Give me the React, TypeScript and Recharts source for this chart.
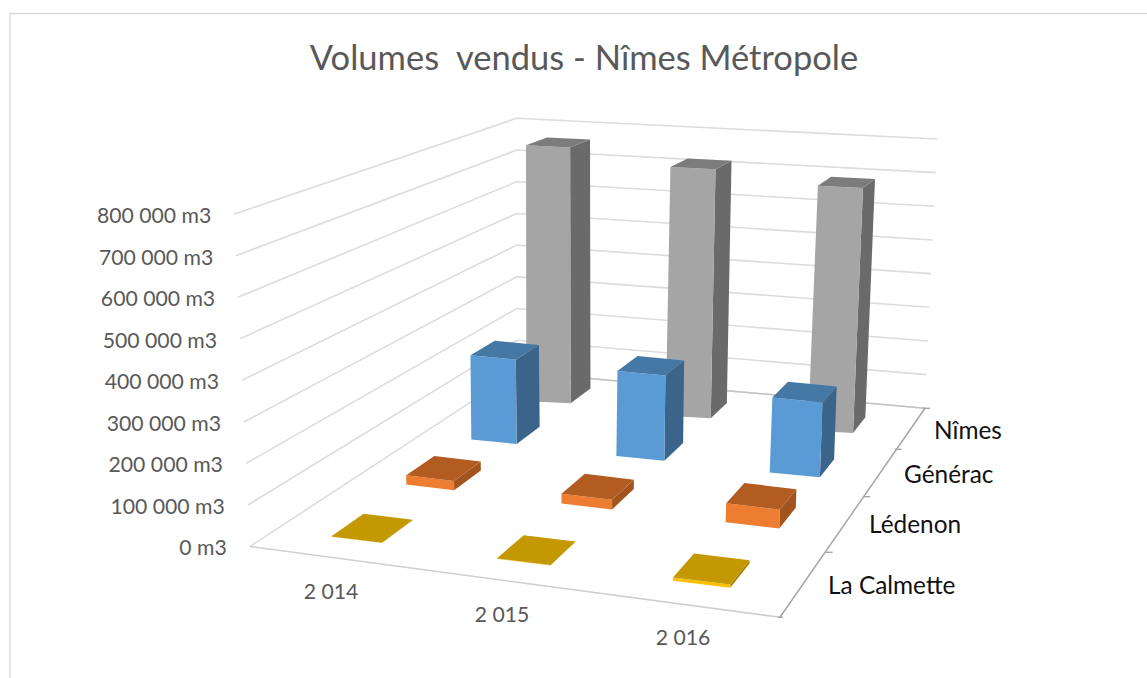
import React from 'react';
import { BarChart, Bar, XAxis, YAxis, Customized } from 'recharts';

const years = ['2 014', '2 015', '2 016'];
const nimes = [766000, 745000, 733000];
const generac = [241000, 243000, 214000];
const ledenon = [25000, 26000, 51000];
const laCalmette = [1000, 1000, 9000];
const depthLabels = ['La Calmette', 'Lédenon', 'Générac', 'Nîmes'];
const volumeTicks = [0, 100000, 200000, 300000, 400000, 500000, 600000, 700000, 800000];

const chartData = years.map((year, i) => ({
  year,
  nimes: nimes[i],
  generac: generac[i],
  ledenon: ledenon[i],
  laCalmette: laCalmette[i],
}));

const WIDTH = 1147;
const HEIGHT = 678;
const PLOT_TOP = 100;
const PLOT_BOTTOM = 660;
const X_AXIS_HEIGHT = 1;
const FONT = 'Lato, "Open Sans", sans-serif';
const TEXT_GREY = '#595959';

// vanishing point of the depth direction, everything recedes towards it
const VANISH = { x: 1312, y: -149 };

// one row of bars on the floor, from the back of the chart to the front
const ROWS = [
  { key: 'nimes', size: 46, widths: [0.96, 0.98, 0.98], c0: 548, c2: 830, base: 402.2, baseSlope: 0.1046, edge: 0.05, depth: 0.0268, pxPer100k: 33.4, nudge: -1.3,
    front: '#a5a5a5', top: '#7c7c7c', side: '#6a6a6a' },
  { key: 'generac', size: 48, widths: [0.945, 1, 1.045], c0: 494.2, c2: 795, base: 441.8, baseSlope: 0.11, edge: 0.097, depth: 0.0289, pxPer100k: 35, nudge: -4,
    front: '#5b9bd5', top: '#4678a5', side: '#3a6489' },
  { key: 'ledenon', size: 50.6, widths: [0.945, 1, 1.06], c0: 430.5, c2: 752.7, base: 487.5, baseSlope: 0.1177, edge: 0.12, depth: 0.0311, pxPer100k: 37, nudge: -4.6,
    front: '#ed7d31', top: '#b35c21', side: '#a3541e' },
  { key: 'laCalmette', size: 53.7, widths: [0.945, 1, 1.07], c0: 357, c2: 702, base: 540, baseSlope: 0.1287, edge: 0.122, depth: 0.033, pxPer100k: 38.5, nudge: -5.5,
    front: '#ffc000', top: '#c49800', side: '#a88300' },
];

// the three walls, given at value 0 and at value 800 000
const WALL = {
  frontLeft: [{ x: 250, y: 546.5 }, { x: 233.7, y: 214.3 }],
  backLeft: [{ x: 516.7, y: 372 }, { x: 516.7, y: 118.3 }],
  backRight: [{ x: 925, y: 408.3 }, { x: 937.3, y: 139 }],
};
const FLOOR_FRONT_RIGHT = { x: 780, y: 617.3 };
const FLOOR_TICKS = [
  { x: 827.7, y: 552.3 },
  { x: 865, y: 496.7 },
  { x: 896.7, y: 449.3 },
  { x: 925, y: 408.3 },
];
const DEPTH_LABEL_POS = [
  { x: 828, y: 584 },
  { x: 869, y: 523 },
  { x: 904, y: 473 },
  { x: 934, y: 429 },
];
const YEAR_BAND = 176;

const lerp = (a: any, b: any, t: number) => ({ x: a.x + (b.x - a.x) * t, y: a.y + (b.y - a.y) * t });
const pts = (list: any[]) => list.map(p => `${p.x},${p.y}`).join(' ');

// y domain that puts value 0 on a given pixel line with a given vertical scale
const domainFor = (zeroPx: number, pxPer100k: number): [number, number] => [
  ((zeroPx - PLOT_BOTTOM) / pxPer100k) * 100000,
  ((zeroPx - PLOT_TOP) / pxPer100k) * 100000,
];

const xPadding = (row: any) => {
  const band = (row.c2 - row.c0) / 2;
  return { left: row.c0 - band / 2, right: WIDTH - (row.c2 + band / 2) };
};

const Box3D = (props: any) => {
  const { x, y, width, height, index, row } = props;
  const rawCx = x + width / 2;
  const cx = rawCx + (index === 1 ? row.nudge : 0);
  const yBase = y + height + (rawCx - row.c0) * row.baseSlope;
  const w = width * row.widths[index];
  const lean = (cx - 560) * 0.00015 * height;

  const BL = { x: cx - w / 2, y: yBase - (row.edge * w) / 2 };
  const BR = { x: cx + w / 2, y: yBase + (row.edge * w) / 2 };
  const TL = { x: BL.x + lean, y: BL.y - height };
  const TR = { x: BR.x + lean, y: BR.y - height };
  const back = (p: any) => lerp(p, VANISH, row.depth);

  return (
    <g>
      <polygon points={pts([BR, TR, back(TR), back(BR)])} fill={row.side} />
      <polygon points={pts([BL, BR, TR, TL])} fill={row.front} />
      <polygon points={pts([TL, TR, back(TR), back(TL)])} fill={row.top} />
    </g>
  );
};

const VolumeTick = ({ y, payload }: any) => {
  const right = 226.7 - (payload.value / 800000) * 15.4;
  return (
    <text x={right} y={y + 0.5} textAnchor="end" dominantBaseline="central" fontFamily={FONT} fontSize={21.2} fill={TEXT_GREY}>
      {`${payload.value === 0 ? '0' : String(payload.value / 1000) + ' 000'} m3`}
    </text>
  );
};

const YearTick = ({ x, index, payload }: any) => {
  const cx = x + (index === 1 ? -5 : 0);
  return (
    <text x={cx} y={591 + (cx - 331) * 0.132} textAnchor="middle" dominantBaseline="central" fontFamily={FONT} fontSize={21.2} fill={TEXT_GREY}>
      {payload.value}
    </text>
  );
};

const Frame = () => {
  const gridColor = '#dcdcdc';
  return (
    <g>
      <path d={`M10 ${HEIGHT} V13.5 H${WIDTH}`} fill="none" stroke="#d9d9d9" strokeWidth={1.4} />
      <text x={584} y={56.5} textAnchor="middle" dominantBaseline="central" fontFamily={FONT} fontSize={34.5} fill={TEXT_GREY} style={{ whiteSpace: 'pre' }}>
        Volumes  vendus - Nîmes Métropole
      </text>

      {volumeTicks.map(v => {
        const t = v / 800000;
        const a = lerp(WALL.frontLeft[0], WALL.frontLeft[1], t);
        const b = lerp(WALL.backLeft[0], WALL.backLeft[1], t);
        const c = lerp(WALL.backRight[0], WALL.backRight[1], t);
        return (
          <polyline key={v} points={pts([a, b, c])} fill="none" stroke={gridColor} strokeWidth={1.6} />
        );
      })}

      <line x1={WALL.backLeft[0].x} y1={WALL.backLeft[0].y} x2={WALL.backRight[0].x} y2={WALL.backRight[0].y} stroke="#c4c4c4" strokeWidth={1.5} />
      <line x1={WALL.frontLeft[0].x} y1={WALL.frontLeft[0].y} x2={FLOOR_FRONT_RIGHT.x} y2={FLOOR_FRONT_RIGHT.y} stroke="#cfcfcf" strokeWidth={1.6} />
      <line x1={FLOOR_FRONT_RIGHT.x} y1={FLOOR_FRONT_RIGHT.y} x2={WALL.backRight[0].x} y2={WALL.backRight[0].y} stroke="#a6a6a6" strokeWidth={1.5} />
      <line x1={FLOOR_FRONT_RIGHT.x - 2} y1={FLOOR_FRONT_RIGHT.y} x2={FLOOR_FRONT_RIGHT.x + 3} y2={FLOOR_FRONT_RIGHT.y} stroke="#a6a6a6" strokeWidth={1.4} />
      {FLOOR_TICKS.map((p, i) => (
        <line key={i} x1={p.x - 2} y1={p.y} x2={p.x + 5} y2={p.y} stroke="#a6a6a6" strokeWidth={1.4} />
      ))}

      {depthLabels.map((name, i) => (
        <text key={name} x={DEPTH_LABEL_POS[i].x} y={DEPTH_LABEL_POS[i].y} dominantBaseline="central" fontFamily={FONT} fontSize={24.4} fill="#111">
          {name}
        </text>
      ))}
    </g>
  );
};

export default function App() {
  return (
    <div style={{ position: 'absolute', left: 0, top: 0, width: WIDTH, height: HEIGHT, background: '#fff' }}>
      <BarChart
        width={WIDTH}
        height={HEIGHT}
        data={chartData}
        margin={{ top: PLOT_TOP, right: 0, bottom: HEIGHT - PLOT_BOTTOM - X_AXIS_HEIGHT, left: 0 }}
      >
        <Customized component={Frame} />

        <XAxis xAxisId="years" dataKey="year" height={X_AXIS_HEIGHT} axisLine={false} tickLine={false} interval={0}
          padding={{ left: 331 - YEAR_BAND / 2, right: WIDTH - 683 - YEAR_BAND / 2 }} tick={YearTick} />
        <YAxis yAxisId="volume" type="number" mirror axisLine={false} tickLine={false} interval={0}
          domain={domainFor(WALL.frontLeft[0].y, 41.5)} ticks={volumeTicks} tick={VolumeTick} />
        {/* draws nothing, it only ties the two visible axes to the data */}
        <Bar dataKey="nimes" xAxisId="years" yAxisId="volume" isAnimationActive={false} shape={() => null} />

        {ROWS.map(row => (
          <XAxis key={row.key} xAxisId={row.key} dataKey="year" hide padding={xPadding(row)} />
        ))}
        {ROWS.map(row => (
          <YAxis key={row.key} yAxisId={row.key} type="number" hide domain={domainFor(row.base, row.pxPer100k)} />
        ))}

        {ROWS.map(row => (
          <Bar
            key={row.key}
            dataKey={row.key}
            xAxisId={row.key}
            yAxisId={row.key}
            barSize={row.size}
            isAnimationActive={false}
            shape={(p: any) => <Box3D {...p} row={row} />}
          />
        ))}
      </BarChart>
    </div>
  );
}
